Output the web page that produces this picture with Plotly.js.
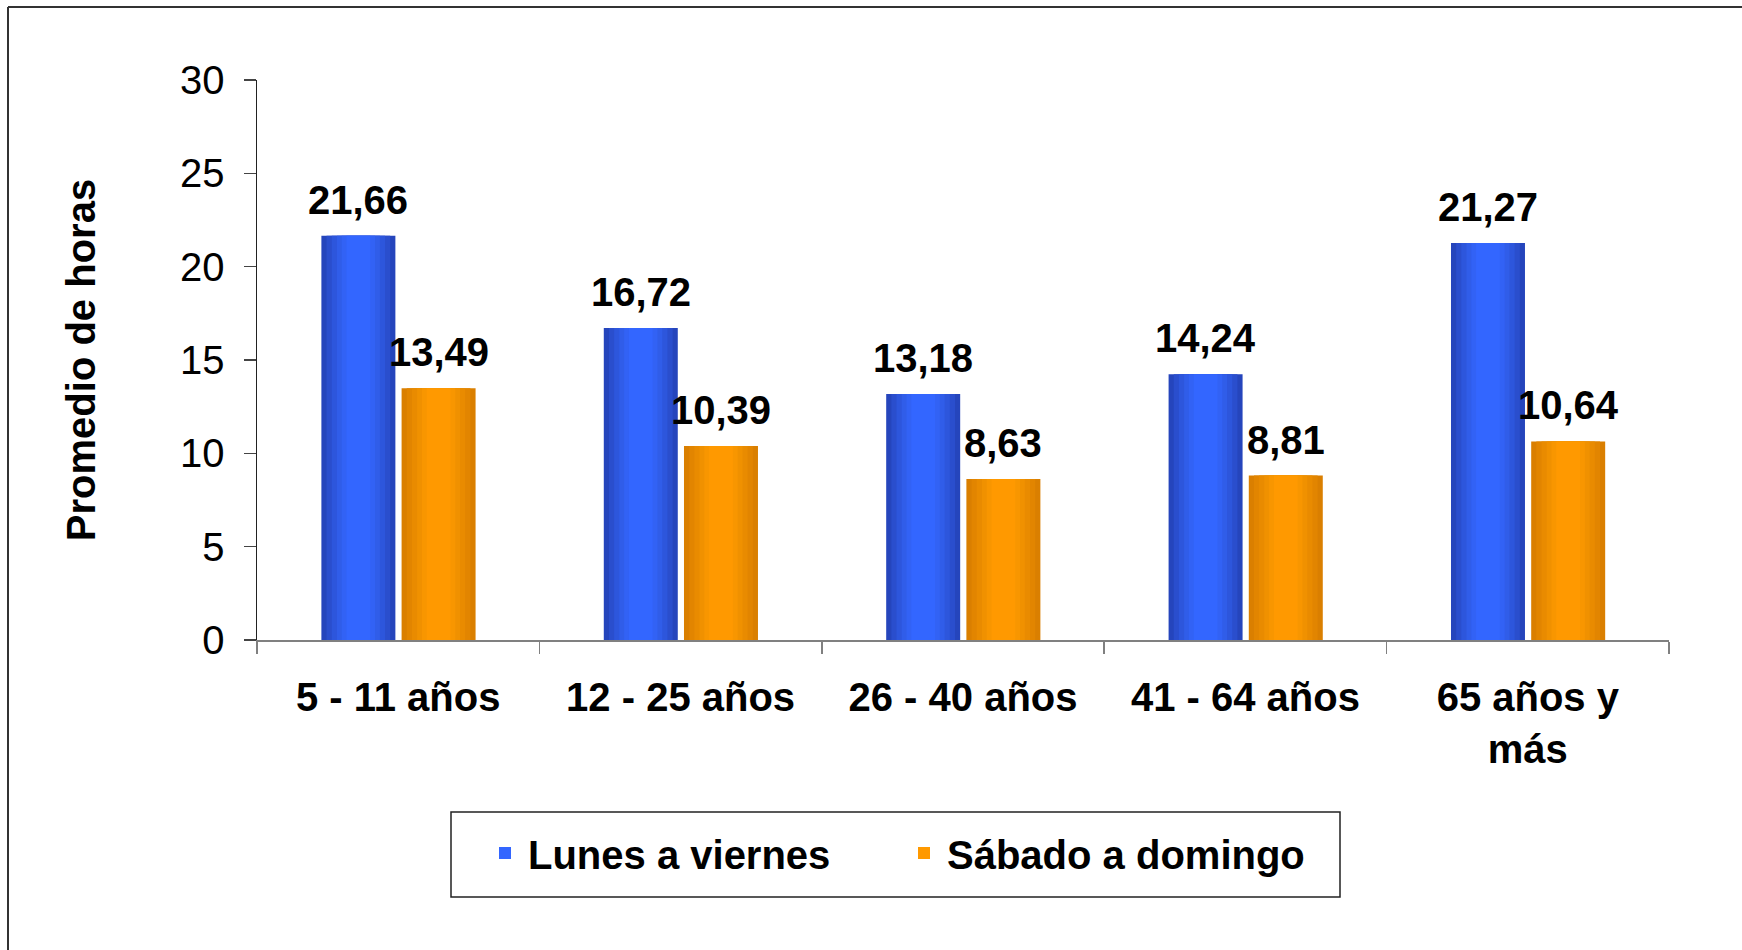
<!DOCTYPE html>
<html><head><meta charset="utf-8">
<script src="https://cdn.plot.ly/plotly-3.0.1.min.js"></script>
<style>html,body{margin:0;padding:0;background:#fff}#chart{width:1742px;height:950px}</style>
</head><body><div id="chart"></div>
<script>
// ---- data ----
const categories = ['5 - 11 años', '12 - 25 años', '26 - 40 años', '41 - 64 años', '65 años y<br>más'];
const lunes = [21.66, 16.72, 13.18, 14.24, 21.27];
const sabado = [13.49, 10.39, 8.63, 8.81, 10.64];
const seriesNames = ['Lunes a viernes', 'Sábado a domingo'];
const yTickVals = [0, 5, 10, 15, 20, 25, 30];

// ---- style ----
const FONT = '"Liberation Sans", Arial, Helvetica, sans-serif';
const blueShades = ['#2545BC', '#2A4ECD', '#2D56DC', '#305DE9', '#3262F5', '#3366FF'];
const orangeShades = ['#DA7F00', '#E28500', '#E98B00', '#F09100', '#F89600', '#FF9900'];
const layerFracs = [1, 0.86, 0.72, 0.58, 0.45, 0.32];
const BAR_W = 0.262;
const centers = [-0.141, 0.143];

function fmt(v) { return v.toFixed(2).replace('.', ','); }

const seriesVals = [lunes, sabado];
const seriesShades = [blueShades, orangeShades];
const traces = [];
seriesVals.forEach((vals, s) => {
  layerFracs.forEach((f, k) => {
    const w = BAR_W * f;
    const last = k === layerFracs.length - 1;
    traces.push({
      type: 'bar',
      x: categories,
      y: vals,
      name: seriesNames[s],
      width: w,
      offset: centers[s] - w / 2,
      marker: { color: seriesShades[s][k], line: { width: 0 } },
      showlegend: last,
      legendrank: s + 1,
      hoverinfo: last ? 'x+y+name' : 'skip'
    });
  });
});

const annotations = [];
seriesVals.forEach((vals, s) => {
  vals.forEach((v, i) => {
    annotations.push({
      x: i + centers[s], y: v, xref: 'x', yref: 'y',
      text: '<b>' + fmt(v) + '</b>', showarrow: false,
      yanchor: 'middle', yshift: 36,
      font: { family: FONT, size: 40, color: '#000' }
    });
  });
});

// plot area in px: x 257..1669, y 80..640
const L = 257, R = 1669, T = 80, B = 640;
const px = v => (v - L) / (R - L);
const py = v => (B - v) / (B - T);

const shapes = [
  // outer frame (left & top)
  { type: 'line', xref: 'paper', yref: 'paper', x0: px(8), x1: px(8), y0: py(7), y1: py(952), line: { color: '#333', width: 2 } },
  { type: 'line', xref: 'paper', yref: 'paper', x0: px(8), x1: px(1745), y0: py(7), y1: py(7), line: { color: '#333', width: 2 } },
  // legend box
  { type: 'rect', xref: 'paper', yref: 'paper', x0: px(451), x1: px(1340), y0: py(812), y1: py(897), line: { color: '#222', width: 1.5 }, fillcolor: 'rgba(0,0,0,0)' }
];

const layout = {
  width: 1742, height: 950,
  margin: { l: L, r: 1742 - R, t: T, b: 950 - B },
  paper_bgcolor: '#fff', plot_bgcolor: '#fff',
  barmode: 'overlay',
  font: { family: FONT, color: '#000' },
  showlegend: true,
  legend: {
    orientation: 'h', x: px(482), xanchor: 'left', y: py(853), yanchor: 'middle',
    font: { family: FONT, size: 40, color: '#000', weight: 'bold' },
    bgcolor: 'rgba(0,0,0,0)', borderwidth: 0,
    itemwidth: 36,
    entrywidth: 368, entrywidthmode: 'pixels'
  },
  xaxis: {
    type: 'category',
    showline: true, linecolor: '#808080', linewidth: 2,
    ticks: 'outside', tickson: 'boundaries', ticklen: 12, tickcolor: '#808080', tickwidth: 1.5,
    tickfont: { family: FONT, size: 40, color: '#000', weight: 'bold' },
    ticklabelstandoff: 21,
    showgrid: false, zeroline: false, fixedrange: true
  },
  yaxis: {
    range: [0, 30], tickvals: yTickVals, ticktext: yTickVals.map(String),
    showline: true, linecolor: '#222', linewidth: 1.5,
    ticks: 'outside', ticklen: 12, tickcolor: '#444', tickwidth: 1.5,
    tickfont: { family: FONT, size: 40, color: '#000' },
    ticklabelstandoff: 11,
    showgrid: false, zeroline: false, fixedrange: true,
    title: { text: '<b>Promedio de horas</b>', font: { family: FONT, size: 40, color: '#000' }, standoff: 72 }
  },
  annotations: annotations,
  shapes: shapes
};

Plotly.newPlot('chart', traces, layout, { displayModeBar: false, staticPlot: true });
</script>
</body></html>
